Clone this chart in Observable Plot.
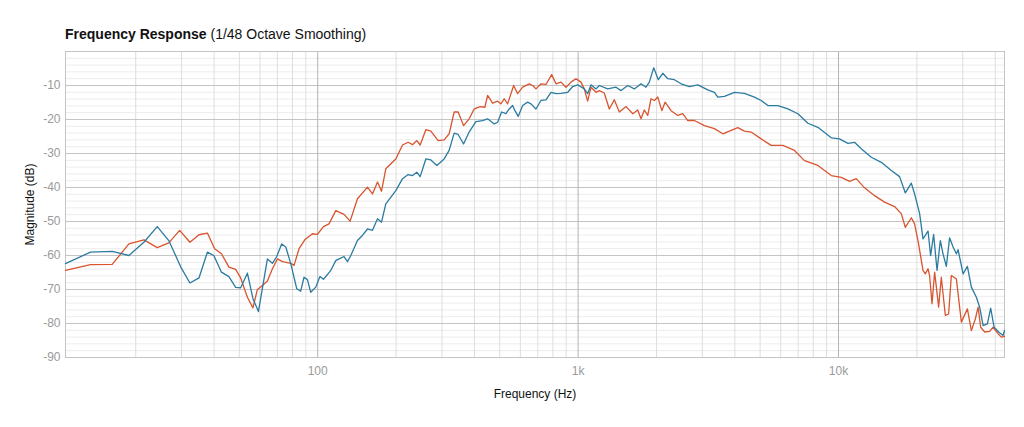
<!DOCTYPE html>
<html>
<head>
<meta charset="utf-8">
<script src="https://cdn.jsdelivr.net/npm/d3@7"></script>
<script src="https://cdn.jsdelivr.net/npm/@observablehq/plot@0.6"></script>
<style>
  body { margin: 0; background: #fff; font-family: "Liberation Sans", Arial, sans-serif; }
  #title { height: 45px; box-sizing: border-box; padding: 25px 0 0 65px; font-size: 14px; line-height: 18px; color: #111; }
  #title b { font-weight: 600; }
  [aria-label="y-axis label"] text, [aria-label="x-axis label"] text { fill: #111; }
</style>
</head>
<body>
<div id="title"><b>Frequency Response</b> (1/48 Octave Smoothing)</div>
<div id="chart"></div>
<script>
const blueFreq = [10.75,13.41,16.25,18.83,21.5,24.2,26.8,29.8,32.3,35.0,37.7,39.9,42.7,45.6,48.4,50.6,53.7,56.4,59.2,64.1,67.0,69.6,72.7,75.4,78.8,83.1,86.0,88.6,91.3,94.0,98.3,102,105.2,109.0,112.2,117.3,120.8,126.2,130.1,134,142.1,148.5,155.3,162.3,169.7,175.8,182.6,199.5,211.7,222.5,231.3,240.3,247.4,260.2,272.0,286.8,305.9,319.7,334.2,346.2,363.2,381.6,404.9,429.7,449.2,476.2,490.8,508.4,528.2,543.8,560.4,572.0,588.8,612.3,640.0,659.0,688.8,720.0,752.6,786.6,822.2,859.4,912.1,953.3,996.3,1056,1088,1121,1172,1206,1299,1398,1462,1551,1644,1744,1823,1877,1951,2033,2115,2210,2343,2486,2675,2882,3148,3338,3440,3646,3985,4353,4755,5047,5355,5852,6393,6984,7629,8334,9378,10090,10870,11526,12230,13360,14600,15950,17160,18060,19040,19600,20490,21110,21540,22070,22580,23190,23900,24610,25200,25950,26710,27540,28360,28790,30090,31260,32380,33840,34850,35920,37310,38410,39580,41230,42860,43400];
const blueDb = [-62.4,-59.0,-58.8,-60.0,-56.1,-51.5,-55.6,-63.4,-68.1,-66.6,-59.0,-60.0,-64.9,-66.2,-69.4,-69.5,-65.2,-72.7,-76.5,-61.0,-62.3,-60.3,-56.6,-57.5,-62.4,-69.8,-70.5,-66.4,-67.1,-70.8,-69.3,-66.2,-67.0,-65.6,-64.4,-61.5,-61.0,-60.3,-61.8,-60.0,-55.6,-54.1,-52.2,-52.6,-49.2,-50.2,-44.8,-40.9,-37.4,-36.2,-36.5,-35.5,-36.8,-31.6,-31.9,-33.5,-31.6,-29.1,-24.0,-24.4,-27.2,-23.7,-20.6,-20.3,-19.8,-21.3,-20.8,-17.8,-18.3,-16.9,-15.9,-17.4,-19.1,-15.9,-14.9,-15.4,-16.9,-14.4,-14.2,-12.0,-12.4,-12.3,-12.0,-10.3,-9.8,-11.0,-12.4,-9.8,-11.0,-10.0,-11.0,-10.5,-11.5,-10.0,-11.0,-9.5,-10.5,-9.0,-4.8,-8.3,-6.4,-8.0,-8.3,-9.5,-10.3,-9.8,-11.3,-12.0,-13.4,-13.2,-12.0,-12.3,-13.4,-14.4,-15.9,-15.9,-16.9,-18.3,-21.1,-22.3,-25.4,-25.7,-27.0,-26.7,-28.6,-31.1,-32.6,-35.0,-36.8,-41.6,-38.7,-41.9,-47.7,-55.1,-54.1,-52.8,-60.0,-53.8,-64.4,-55.6,-59.5,-63.2,-54.8,-57.5,-59.5,-58.3,-65.4,-63.2,-69.3,-72.3,-75.2,-80.6,-80.1,-75.5,-81.1,-82.5,-83.5,-82.0];

const redFreq = [10.75,13.41,16.25,18.83,21.5,24.2,26.8,29.5,32.3,35.0,37.7,40.2,42.7,45.6,48.4,50.6,53.7,56.4,58.6,61.3,64.1,67.0,70.0,73.2,78.8,81.1,84.8,89.2,95.4,99.7,105.2,110.5,117.3,126.2,133.2,142.1,155.3,162.3,169.7,175.8,182.6,199.5,211.7,222.5,231.3,240.3,247.4,260.2,272.0,290.1,305.9,319.7,334.2,346.2,363.2,381.6,398.9,420.7,438.5,449.2,469.5,490.8,505.2,520.2,536.2,565.5,585.7,612.3,649.0,668.9,688.8,720.0,752.6,791.5,822.2,859.4,898.5,938.8,981.3,1026,1056,1088,1121,1172,1206,1260,1318,1377,1440,1528,1622,1694,1744,1796,1851,1905,1963,2023,2096,2158,2275,2414,2523,2637,2796,3055,3338,3595,3811,4106,4353,4618,5047,5514,6116,6776,7402,8334,9378,10245,11025,11700,12590,13760,15030,16420,17420,18050,19040,19600,20300,21110,21540,22070,22380,22860,23400,24240,24820,25720,26480,27120,28360,29640,31260,32380,33550,34360,35160,36420,38080,39230,41000,42210,43400];
const redDb = [-64.4,-62.7,-62.6,-56.6,-55.4,-57.7,-56.3,-52.6,-56.1,-53.9,-53.4,-58.0,-59.5,-63.4,-64.1,-66.6,-72.3,-75.4,-70.1,-68.8,-67.5,-63.9,-61.0,-61.8,-62.3,-62.9,-58.0,-55.4,-53.6,-53.8,-51.5,-50.7,-46.8,-47.9,-49.9,-43.3,-39.9,-41.9,-38.4,-41.1,-34.5,-31.6,-27.5,-26.7,-27.4,-26.2,-27.5,-23.0,-23.4,-26.2,-26.0,-24.2,-17.8,-17.8,-21.8,-19.8,-16.9,-16.2,-16.4,-12.9,-15.2,-14.6,-15.4,-13.9,-15.4,-10.0,-12.4,-10.5,-9.5,-10.0,-11.0,-9.5,-9.7,-6.8,-9.5,-9.0,-10.5,-9.0,-8.0,-9.0,-11.0,-14.6,-10.5,-12.0,-11.5,-12.2,-16.9,-14.2,-17.8,-16.2,-18.3,-17.2,-19.8,-17.2,-18.8,-13.9,-14.4,-13.4,-17.4,-14.9,-17.4,-18.8,-18.3,-20.3,-20.3,-21.8,-22.7,-24.2,-23.4,-22.4,-23.4,-23.7,-25.7,-27.6,-27.6,-29.1,-32.1,-33.5,-36.5,-37.0,-38.2,-37.4,-40.1,-42.4,-44.3,-45.6,-47.7,-51.7,-48.9,-50.7,-56.6,-64.4,-65.4,-63.9,-65.9,-74.2,-64.9,-75.2,-66.4,-77.6,-77.2,-65.9,-66.9,-79.6,-75.7,-82.1,-78.6,-75.2,-81.1,-82.5,-82.3,-81.1,-83.0,-84.0,-83.8];

const xTicks = [100, 1000, 10000];
const xTickLabels = ["100", "1k", "10k"];
const yTicks = [-90, -80, -70, -60, -50, -40, -30, -20, -10];

const xMinor = [];
for (const d of [10, 100, 1000, 10000]) for (let k = 2; k <= 9; k++) if (d * k < 43400) xMinor.push(d * k);
const yMinor = d3.range(-88, 0, 2).filter(v => v % 10 !== 0);

const blue = blueFreq.map((f, i) => ({f, db: blueDb[i]}));
const red = redFreq.map((f, i) => ({f, db: redDb[i]}));

const chart = Plot.plot({
  width: 1024,
  height: 382,
  marginLeft: 65,
  marginRight: 20,
  marginTop: 6,
  marginBottom: 70,
  style: {fontFamily: "'Liberation Sans', Arial, sans-serif", fontSize: "12px", background: "#fff"},
  x: {type: "log", domain: [10.75, 43400]},
  y: {domain: [-90, 0]},
  marks: [
    Plot.ruleY(yMinor, {stroke: "#ececec", strokeWidth: 1}),
    Plot.ruleX(xMinor, {stroke: "#dedede", strokeWidth: 1}),
    Plot.ruleY(yTicks, {stroke: "#c4c4c4", strokeWidth: 1}),
    Plot.ruleX(xTicks, {stroke: "#b4b4b4", strokeWidth: 1}),
    Plot.frame({stroke: "#c4c4c4"}),
    Plot.axisX({ticks: xTicks, tickFormat: d => xTickLabels[xTicks.indexOf(d)], tickSize: 0, tickPadding: 9, fill: "#9a9a9a", fontSize: 12, label: "Frequency (Hz)", labelAnchor: "center", labelArrow: "none", labelOffset: 40}),
    Plot.axisY({ticks: yTicks, tickFormat: d => String(d), tickSize: 0, tickPadding: 5, fill: "#9a9a9a", fontSize: 12, label: "Magnitude (dB)", labelAnchor: "center", labelArrow: "none", labelOffset: 40}),
    Plot.line(red, {x: "f", y: "db", stroke: "#d9542f", strokeWidth: 1.3}),
    Plot.line(blue, {x: "f", y: "db", stroke: "#2b7ba1", strokeWidth: 1.3})
  ]
});
document.getElementById("chart").appendChild(chart);
</script>
</body>
</html>
